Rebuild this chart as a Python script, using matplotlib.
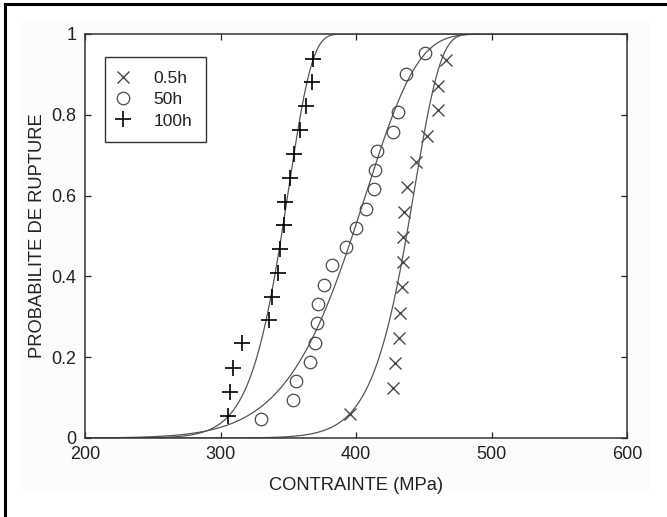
import matplotlib

matplotlib.use("Agg")
import matplotlib.pyplot as plt
import numpy as np
from matplotlib.lines import Line2D
from matplotlib.patches import Rectangle

plt.rcParams["font.family"] = ["Liberation Sans", "DejaVu Sans"]

# measured points (stress in MPa, failure probability)
stress_05h = [395.6, 427.5, 428.8, 431.7, 432.5, 433.7, 434.4, 434.9,
              435.4, 437.9, 444.3, 452.6, 460.8, 460.8, 466.5]
prob_05h = [0.059, 0.123, 0.185, 0.247, 0.310, 0.375, 0.436, 0.498,
            0.560, 0.622, 0.684, 0.748, 0.812, 0.871, 0.936]

stress_50h = [329.9, 353.7, 355.7, 366.1, 369.7, 371.0, 372.2, 376.4,
              382.5, 392.6, 400.0, 407.4, 413.3, 414.0, 415.3, 427.6,
              431.3, 436.9, 450.9]
prob_50h = [0.046, 0.094, 0.142, 0.189, 0.236, 0.284, 0.332, 0.379,
            0.427, 0.474, 0.521, 0.568, 0.616, 0.663, 0.710, 0.758,
            0.808, 0.901, 0.952]

stress_100h = [305.8, 307.0, 309.5, 315.6, 336.0, 337.8, 342.2, 343.9,
               347.1, 347.8, 351.3, 354.2, 358.7, 363.1, 367.8, 368.0]
prob_100h = [0.054, 0.113, 0.174, 0.234, 0.292, 0.350, 0.409, 0.468,
             0.527, 0.583, 0.643, 0.703, 0.762, 0.822, 0.881, 0.937]

# Weibull fit parameters of the three curves (modulus m, scale sigma0)
weibull_m = [24.0, 11.6, 21.0]
weibull_s0 = [444.0, 410.0, 351.0]

fig = plt.figure(figsize=(6.67, 5.17), dpi=100)
fig.patches.append(Rectangle((20 / 667, 1 - 490 / 517), 630 / 667, 470 / 517,
                             transform=fig.transFigure, facecolor="#fcfcfc",
                             edgecolor="none", zorder=-5))
fig.add_artist(Line2D([4.5 / 667, 4.5 / 667], [0, 1 - 4 / 517],
                      transform=fig.transFigure, color="black", lw=2.2))
fig.add_artist(Line2D([4.5 / 667, 1], [1 - 4 / 517, 1 - 4 / 517],
                      transform=fig.transFigure, color="black", lw=2.2))

ax = fig.add_axes([85 / 667, 1 - 438 / 517, 542 / 667, 404 / 517])
ax.patch.set_facecolor("white")

xs = np.linspace(200, 600, 800)
for m, s0 in zip(weibull_m, weibull_s0):
    ax.plot(xs, 1 - np.exp(-(xs / s0) ** m), color="#555555", lw=0.9)

ax.plot(stress_05h, prob_05h, ls="none", marker="x", ms=9, mew=1.0,
        color="#4a4a4a", label="0.5h")
ax.plot(stress_50h, prob_50h, ls="none", marker="o", ms=9, mew=0.9,
        mfc="none", color="#4a4a4a", label="50h")
ax.plot(stress_100h, prob_100h, ls="none", marker="+", ms=11, mew=1.2,
        color="black", label="100h")

ax.set_xlim(200, 600)
ax.set_ylim(0, 1)
ax.set_xticks([200, 300, 400, 500, 600])
ax.set_yticks([0, 0.2, 0.4, 0.6, 0.8, 1])
ax.set_yticklabels(["0", "0.2", "0.4", "0.6", "0.8", "1"])
ax.tick_params(direction="in", length=4.5, width=0.9, top=True, right=True,
               labelsize=13, pad=6, colors="#222222")
for sp in ax.spines.values():
    sp.set_color("#333333")
    sp.set_linewidth(1.1)

ax.set_xlabel("CONTRAINTE (MPa)", fontsize=13.2, labelpad=10, color="#222222")
ax.set_ylabel("PROBABILITE DE RUPTURE", fontsize=13.2, labelpad=4, color="#222222")

leg = ax.legend(loc="upper left", bbox_to_anchor=(0.037, 0.943), borderaxespad=0,
                fontsize=12.5, fancybox=False, framealpha=1, edgecolor="#333333",
                borderpad=0.8, handlelength=0.5, handletextpad=1.5,
                labelspacing=0.35)
leg.get_frame().set_linewidth(1.0)
for t in leg.get_texts():
    t.set_color("#222222")

fig.savefig("out.png", dpi=100)
